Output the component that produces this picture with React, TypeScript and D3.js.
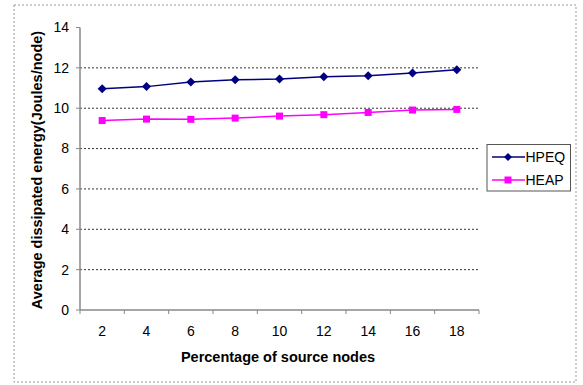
import React from "react";
import * as d3 from "d3";

const categories = ["2", "4", "6", "8", "10", "12", "14", "16", "18"];
const hpeq = [10.97, 11.07, 11.3, 11.41, 11.45, 11.56, 11.61, 11.75, 11.91];
const heap = [9.39, 9.46, 9.45, 9.51, 9.61, 9.68, 9.79, 9.91, 9.94];
const yTicks = [0, 2, 4, 6, 8, 10, 12, 14];

const W = 583;
const H = 385;
const left = 80;
const right = 479;
const top = 27.5;
const bottom = 310;
const font = "'Liberation Sans', Arial, sans-serif";

export default function App() {
  const x = d3.scaleBand<string>().domain(categories).range([left, right]);
  const y = d3.scaleLinear().domain([0, 14]).range([bottom, top]);
  const cx = (c: string) => (x(c) ?? 0) + x.bandwidth() / 2;
  const line = d3
    .line<number>()
    .x((_, i) => cx(categories[i]))
    .y((d) => y(d));

  const diamond = (px: number, py: number, r = 4.5) =>
    `M${px},${py - r}L${px + r},${py}L${px},${py + r}L${px - r},${py}Z`;

  return (
    <svg
      width={W}
      height={H}
      style={{ position: "absolute", left: 0, top: 0, background: "#fff" }}
    >
      {/* outer frame */}
      <rect
        x={14}
        y={5}
        width={562}
        height={377}
        fill="none"
        stroke="#999"
        strokeDasharray="2,2"
      />

      {/* horizontal gridlines */}
      {yTicks
        .filter((t) => t > 0 && t < 14)
        .map((t) => (
          <line
            key={"g" + t}
            x1={left}
            x2={right}
            y1={y(t)}
            y2={y(t)}
            stroke="#333"
            strokeDasharray="2,2"
            strokeWidth={1}
          />
        ))}

      {/* axes */}
      <line x1={left} x2={left} y1={top} y2={bottom} stroke="#888" strokeWidth={1.5} />
      <line x1={left} x2={right} y1={bottom} y2={bottom} stroke="#888" strokeWidth={1.5} />

      {/* y ticks & labels */}
      {yTicks.map((t) => (
        <g key={"y" + t}>
          <line x1={left - 4} x2={left} y1={y(t)} y2={y(t)} stroke="#888" />
          <text
            x={69}
            y={y(t)}
            dy="0.35em"
            textAnchor="end"
            fontFamily={font}
            fontSize={14}
            fill="#000"
          >
            {t}
          </text>
        </g>
      ))}

      {/* x ticks at category boundaries */}
      {categories.map((c) => (
        <line
          key={"xt" + c}
          x1={x(c) ?? 0}
          x2={x(c) ?? 0}
          y1={bottom}
          y2={bottom + 4}
          stroke="#888"
        />
      ))}
      <line x1={right} x2={right} y1={bottom} y2={bottom + 4} stroke="#888" />
      {categories.map((c) => (
        <text
          key={"xl" + c}
          x={cx(c)}
          y={331.5}
          dy="0.35em"
          textAnchor="middle"
          fontFamily={font}
          fontSize={14}
          fill="#000"
        >
          {c}
        </text>
      ))}

      {/* axis titles */}
      <text
        x={278}
        y={356.5}
        dy="0.35em"
        textAnchor="middle"
        fontFamily={font}
        fontSize={14.5}
        fontWeight="bold"
      >
        Percentage of source nodes
      </text>
      <text
        transform="translate(37,170) rotate(-90)"
        dy="0.35em"
        textAnchor="middle"
        fontFamily={font}
        fontSize={14.5}
        fontWeight="bold"
      >
        Average dissipated energy(Joules/node)
      </text>

      {/* series */}
      <path d={line(hpeq) ?? ""} fill="none" stroke="#000080" strokeWidth={1.5} />
      <path d={line(heap) ?? ""} fill="none" stroke="#FF00FF" strokeWidth={1.5} />
      {hpeq.map((v, i) => (
        <path key={"hp" + i} d={diamond(cx(categories[i]), y(v))} fill="#000080" />
      ))}
      {heap.map((v, i) => (
        <rect
          key={"he" + i}
          x={cx(categories[i]) - 3.5}
          y={y(v) - 3.5}
          width={7}
          height={7}
          fill="#FF00FF"
        />
      ))}

      {/* legend */}
      <rect x={487} y={144.5} width={83.5} height={46.5} fill="#fff" stroke="#555" strokeWidth={1} />
      <line x1={492} x2={525} y1={157} y2={157} stroke="#000080" strokeWidth={1.5} />
      <path d={diamond(508, 157, 4)} fill="#000080" />
      <text x={525.5} y={157} dy="0.35em" fontFamily={font} fontSize={14}>
        HPEQ
      </text>
      <line x1={492} x2={525} y1={180} y2={180} stroke="#FF00FF" strokeWidth={1.5} />
      <rect x={504.5} y={176.5} width={7} height={7} fill="#FF00FF" />
      <text x={525.5} y={180} dy="0.35em" fontFamily={font} fontSize={14}>
        HEAP
      </text>
    </svg>
  );
}
